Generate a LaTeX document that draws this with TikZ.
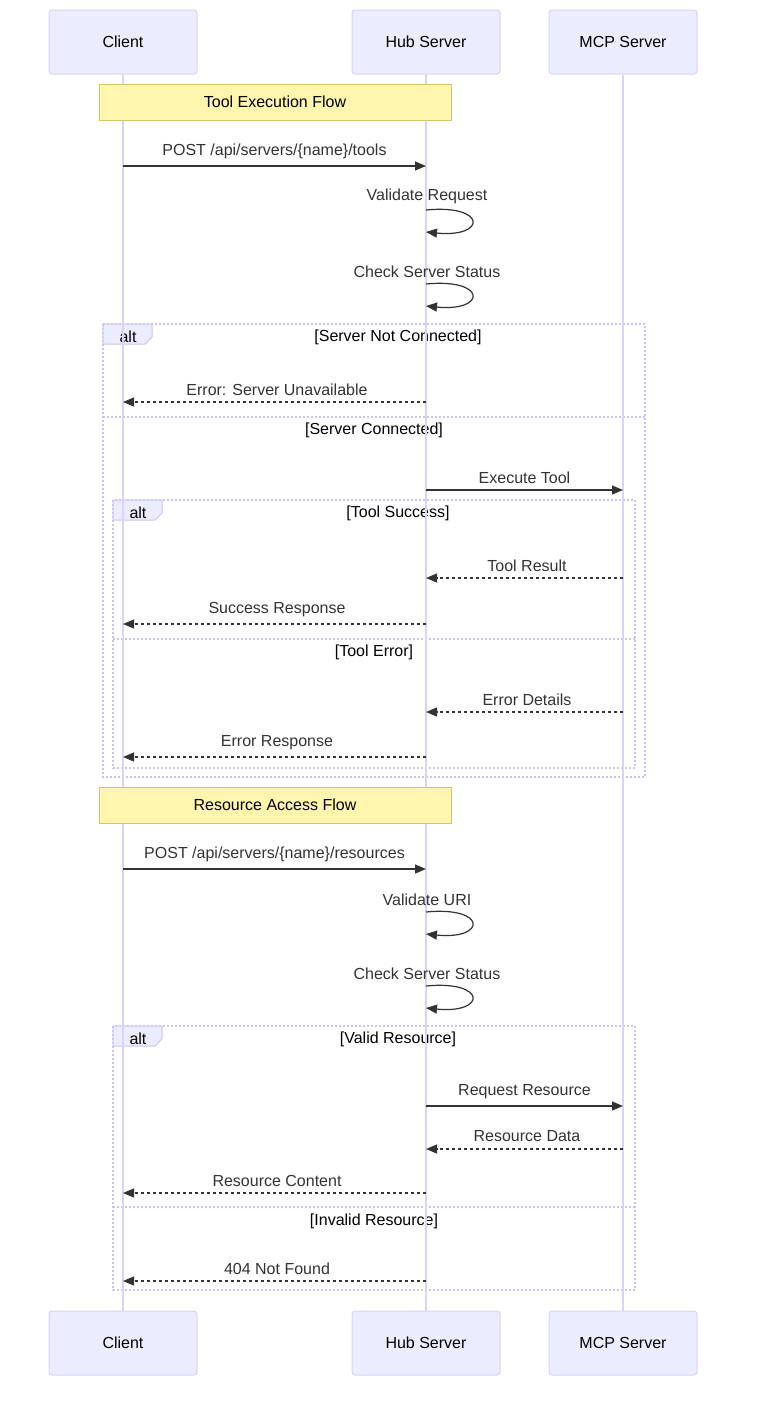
\documentclass[tikz,border=0pt]{standalone}
\usepackage{fontspec}
\setmainfont{Liberation Sans}
\usetikzlibrary{arrows.meta}
\definecolor{actfill}{HTML}{ECECFF}
\definecolor{actline}{HTML}{D9D2F5}
\definecolor{lifeline}{HTML}{DAD3F4}
\definecolor{notefill}{HTML}{FFF5AD}
\definecolor{noteline}{HTML}{D2C66C}
\definecolor{altline}{HTML}{CBC4F0}
\definecolor{msg}{HTML}{333333}
\begin{document}
\begin{tikzpicture}[x=1pt,y=-1pt,
  every node/.style={font=\fontsize{16}{19}\selectfont, inner sep=0pt},
  actor/.style={draw=actline, fill=actfill, line width=1pt, rounded corners=3pt, minimum width=148pt, minimum height=64pt, text height=12pt, text depth=2pt},
  life/.style={draw=lifeline, line width=2pt},
  note/.style={draw=noteline, fill=notefill, line width=1pt, minimum width=352pt, minimum height=36pt, text height=12pt, text depth=2pt},
  lbl/.style={text=msg, yshift=-1.5pt},
  cond/.style={text=black, yshift=-1.5pt},
  solidmsg/.style={draw=msg, line width=1.2pt, -{Triangle[length=11pt,width=9pt]}},
  dashmsg/.style={draw=msg, line width=1.2pt, dash pattern=on 3pt off 3pt, -{Triangle[length=11pt,width=9pt]}},
  loopmsg/.style={draw=msg, line width=1.2pt, -{Triangle[length=11pt,width=9pt]}},
  altbox/.style={draw=altline, line width=1.5pt, dash pattern=on 2pt off 2pt},
  altlab/.style={draw=altline, fill=actfill, line width=1pt}
]
\useasboundingbox (0,0) rectangle (756,1401);
\fill[white] (0,0) rectangle (756,1401);

% actors
\node[actor] (clientT) at (123,42) {Client};
\node[actor] (hubT) at (426,42) {Hub Server};
\node[actor] (mcpT) at (623,42) {MCP Server};
\node[actor] (clientB) at (123,1343) {Client};
\node[actor] (hubB) at (426,1343) {Hub Server};
\node[actor] (mcpB) at (623,1343) {MCP Server};

% alt frames
\draw[altbox] (103,324) rectangle (645,777);
\draw[altbox] (103,417) -- (645,417);
\path[altlab] (103,324) -- (152,324) -- (152,337) -- (145,344) -- (103,344) -- cycle;
\node[cond] (altA) at (128,335) {alt};
\node[cond] (condA1) at (398,336) {[Server Not Connected]};
\node[cond] (condA2) at (374,429) {[Server Connected]};

\draw[altbox] (113,500) rectangle (635,768);
\draw[altbox] (113,639) -- (635,639);
\path[altlab] (113,500) -- (162,500) -- (162,513) -- (155,520) -- (113,520) -- cycle;
\node[cond] (altB) at (138,511) {alt};
\node[cond] (condB1) at (398,512) {[Tool Success]};
\node[cond] (condB2) at (374,651) {[Tool Error]};

\draw[altbox] (113,1026) rectangle (635,1290);
\draw[altbox] (113,1207) -- (635,1207);
\path[altlab] (113,1026) -- (162,1026) -- (162,1039) -- (155,1046) -- (113,1046) -- cycle;
\node[cond] (altC) at (138,1037) {alt};
\node[cond] (condC1) at (398,1038) {[Valid Resource]};
\node[cond] (condC2) at (374,1220) {[Invalid Resource]};

% lifelines
\draw[life] (clientT.south) -- (clientB.north);
\draw[life] (hubT.south) -- (hubB.north);
\draw[life] (mcpT.south) -- (mcpB.north);

% notes
\node[note] (note1) at (275,102) {Tool Execution Flow};
\node[note] (note2) at (275,805.5) {Resource Access Flow};

% messages
\node[lbl] (m1) at (274.5,150) {POST /api/servers/\{name\}/tools};
\draw[solidmsg] (clientT |- 0,166) -- (hubT |- 0,166);

\node[lbl] (m2) at (427,195) {Validate Request};
\draw[loopmsg] (hubT |- 0,210) .. controls (487,204) and (487,238) .. (hubT |- 0,232);

\node[lbl] (m3) at (427,270) {Check Server Status};
\draw[loopmsg] (hubT |- 0,284) .. controls (487,278) and (487,312) .. (hubT |- 0,306);

\node[lbl] (m4) at (277,388) {Error: Server Unavailable};
\draw[dashmsg] (hubT |- 0,402) -- (clientT |- 0,402);

\node[lbl] (m5) at (524.5,476) {Execute Tool};
\draw[solidmsg] (hubT |- 0,490) -- (mcpT |- 0,490);

\node[lbl] (m6) at (527,564) {Tool Result};
\draw[dashmsg] (mcpT |- 0,578) -- (hubT |- 0,578);

\node[lbl] (m7) at (277,608) {Success Response};
\draw[dashmsg] (hubT |- 0,624) -- (clientT |- 0,624);

\node[lbl] (m8) at (527,698) {Error Details};
\draw[dashmsg] (mcpT |- 0,712) -- (hubT |- 0,712);

\node[lbl] (m9) at (277,741) {Error Response};
\draw[dashmsg] (hubT |- 0,757) -- (clientT |- 0,757);

\node[lbl] (m10) at (274.5,853) {POST /api/servers/\{name\}/resources};
\draw[solidmsg] (clientT |- 0,869) -- (hubT |- 0,869);

\node[lbl] (m11) at (427,898) {Validate URI};
\draw[loopmsg] (hubT |- 0,912) .. controls (487,906) and (487,940) .. (hubT |- 0,934);

\node[lbl] (m12) at (427,972) {Check Server Status};
\draw[loopmsg] (hubT |- 0,986) .. controls (487,980) and (487,1014) .. (hubT |- 0,1008);

\node[lbl] (m13) at (524.5,1090) {Request Resource};
\draw[solidmsg] (hubT |- 0,1106) -- (mcpT |- 0,1106);

\node[lbl] (m14) at (527,1135) {Resource Data};
\draw[dashmsg] (mcpT |- 0,1149) -- (hubT |- 0,1149);

\node[lbl] (m15) at (277,1179) {Resource Content};
\draw[dashmsg] (hubT |- 0,1193) -- (clientT |- 0,1193);

\node[lbl] (m16) at (277,1267) {404 Not Found};
\draw[dashmsg] (hubT |- 0,1281) -- (clientT |- 0,1281);
\end{tikzpicture}
\end{document}
